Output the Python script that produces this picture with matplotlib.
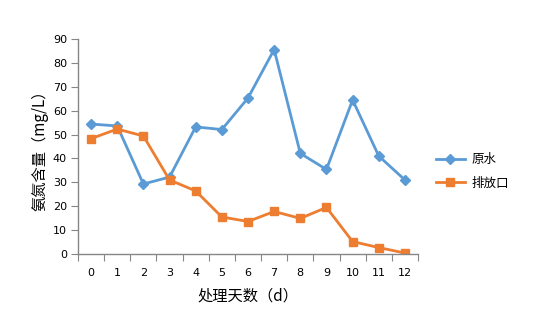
import numpy as np
import matplotlib
matplotlib.use("Agg")
import matplotlib.pyplot as plt

plt.rcParams['font.family'] = ['Noto Sans CJK SC', 'DejaVu Sans']

days = list(range(13))
raw_water = [54.4, 53.6, 29.3, 32.2, 53.2, 52.1, 65.3, 85.6, 42.1, 35.4, 64.5, 41.0, 31.0]
outlet = [48.3, 52.3, 49.4, 31.0, 26.4, 15.5, 13.6, 17.8, 14.9, 19.5, 5.2, 2.7, 0.4]

fig = plt.figure(figsize=(5.47, 3.18), dpi=100)
ax = fig.add_axes([78 / 547, 1 - 254 / 318, 340 / 547, 215 / 318])

ax.plot(days, raw_water, color='#5B9BD5', linewidth=2, marker='D', markersize=5,
        label='原水')
ax.plot(days, outlet, color='#ED7D31', linewidth=2, marker='s', markersize=6,
        label='排放口')

ax.set_xlim(-0.5, 12.5)
ax.set_ylim(0, 90)
ax.set_yticks(np.arange(0, 91, 10))
ax.set_xticks(np.arange(-0.5, 13, 1))
ax.set_xticklabels([])
ax.set_xticks(days, minor=True)
ax.set_xticklabels([str(d) for d in days], minor=True, fontsize=8, family='DejaVu Sans')
ax.tick_params(axis='x', which='minor', length=0, pad=10)
ax.tick_params(axis='x', which='major', length=5, color='#868686')
ax.tick_params(axis='y', length=5, color='#868686', labelsize=8, pad=3)
for lbl in ax.get_yticklabels():
    lbl.set_family('DejaVu Sans')

for side in ['top', 'right']:
    ax.spines[side].set_visible(False)
for side in ['left', 'bottom']:
    ax.spines[side].set_color('#868686')
    ax.spines[side].set_linewidth(1)

ax.set_xlabel('处理天数（d）', fontsize=11, labelpad=7)
ax.set_ylabel('氨氮含量（mg/L）', fontsize=11, labelpad=3)

ax.legend(loc='center left', bbox_to_anchor=(1.02, 0.385), frameon=False,
          fontsize=9, handlelength=2.3, labelspacing=0.85, handletextpad=0.5)

fig.savefig('out.png', dpi=100)
